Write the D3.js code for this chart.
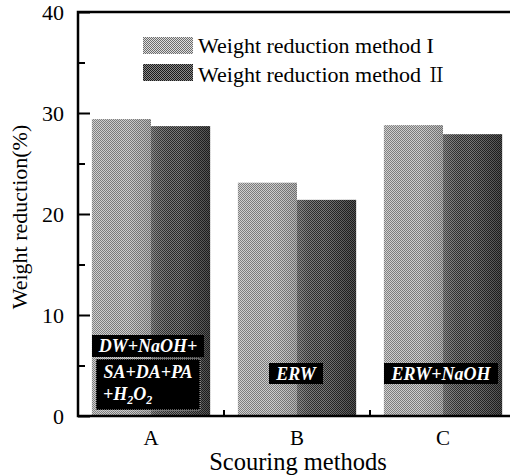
<!DOCTYPE html>
<html>
<head>
<meta charset="utf-8">
<script src="https://cdn.jsdelivr.net/npm/d3@7"></script>
<style>
  html, body { margin: 0; padding: 0; background: #fff; }
  svg { display: block; }
</style>
</head>
<body>
<svg id="chart" width="510" height="476"></svg>
<script>
// Scouring methods and the weight reduction (%) each one gives
const categories = ["A", "B", "C"];
const seriesBase = "Weight reduction method ";
const seriesNumerals = ["I", "\u2161"];
const method1 = [29.4, 23.1, 28.8];
const method2 = [28.7, 21.4, 27.9];
const yTicks = [0, 10, 20, 30, 40];
const yMinorTicks = [5, 15, 25, 35];

const SERIF = '"Liberation Serif"';
const svg = d3.select("#chart");
const plotLeft = 78, plotRight = 516, plotTop = 12, plotBottom = 416;

const x = d3.scaleBand().domain(categories).range([plotLeft, plotRight])
  .paddingInner(0.19).paddingOuter(0.095);
const x1 = d3.scaleBand().domain([0, 1]).range([0, x.bandwidth()]);
const y = d3.scaleLinear().domain([0, 40]).range([plotBottom, plotTop]);

// Halftone-like fills
const defs = svg.append("defs");
function checker(id, a, b) {
  const p = defs.append("pattern").attr("id", id).attr("patternUnits", "userSpaceOnUse")
    .attr("width", 2).attr("height", 2);
  p.append("rect").attr("width", 2).attr("height", 2).attr("fill", a);
  p.append("rect").attr("width", 1).attr("height", 1).attr("fill", b);
  p.append("rect").attr("x", 1).attr("y", 1).attr("width", 1).attr("height", 1).attr("fill", b);
}
checker("pat1", "#dedede", "#6c6c6c");
checker("pat2", "#8a8a8a", "#1a1a1a");
function shade(id, stops) {
  const g = defs.append("linearGradient").attr("id", id);
  stops.forEach(s => g.append("stop").attr("offset", s[0]).attr("stop-color", s[1]).attr("stop-opacity", s[2]));
}
shade("sh1", [["0%", "#fff", 0.05], ["60%", "#000", 0.0], ["100%", "#000", 0.12]]);
shade("sh2", [["0%", "#fff", 0.15], ["45%", "#000", 0.0], ["100%", "#000", 0.35]]);

const fills = ["url(#pat1)", "url(#pat2)"];
const shades = ["url(#sh1)", "url(#sh2)"];
const series = [method1, method2];

const groups = svg.append("g").selectAll("g").data(categories).join("g")
  .attr("transform", d => `translate(${x(d)},0)`);
series.forEach((vals, si) => {
  groups.append("rect")
    .attr("x", x1(si)).attr("width", x1.bandwidth())
    .attr("y", (d, i) => y(vals[i])).attr("height", (d, i) => y(0) - y(vals[i]))
    .attr("fill", fills[si]);
  groups.append("rect")
    .attr("x", x1(si)).attr("width", x1.bandwidth())
    .attr("y", (d, i) => y(vals[i])).attr("height", (d, i) => y(0) - y(vals[i]))
    .attr("fill", shades[si]);
});

// Labels on the bars
const lab = svg.append("g");
function labelBox(cx, y0, w, h, dotted) {
  lab.append("rect").attr("x", cx - w / 2).attr("y", y0).attr("width", w).attr("height", h)
    .attr("fill", "#000")
    .attr("stroke", dotted ? "#bbb" : "none").attr("stroke-dasharray", dotted ? "1,1" : null);
}
function labelText(xx, yb, anchor) {
  return lab.append("text").attr("x", xx).attr("y", yb).attr("text-anchor", anchor)
    .attr("font-family", SERIF).attr("font-weight", "bold").attr("font-style", "italic")
    .attr("font-size", 18).attr("fill", "#fff");
}
const cA = x("A") + x.bandwidth() / 2 - 3;
labelBox(cA, 335, 112, 22, false);
labelText(cA, 352, "middle").text("DW+NaOH+");
labelBox(cA, 359, 104, 51, true);
labelText(cA, 378, "middle").text("SA+DA+PA");
const h2o2 = labelText(cA - 45, 400, "start");
h2o2.append("tspan").text("+H");
h2o2.append("tspan").attr("dy", 4).attr("font-size", 12).text("2");
h2o2.append("tspan").attr("dy", -4).text("O");
h2o2.append("tspan").attr("dy", 4).attr("font-size", 12).text("2");

const cB = x("B") + x.bandwidth() / 2 - 1;
labelBox(cB, 363, 54, 21, false);
labelText(cB, 380, "middle").text("ERW");
const cC = x("C") + x.bandwidth() / 2 - 2;
labelBox(cC, 363, 114, 21, false);
labelText(cC, 380, "middle").text("ERW+NaOH");

// Axes and frame
const axisW = 2.5;
const yAxis = svg.append("g").attr("transform", `translate(${plotLeft},0)`)
  .call(d3.axisLeft(y).tickValues(yTicks).tickSizeInner(-12).tickSizeOuter(0).tickPadding(14));
yAxis.select(".domain").remove();
yAxis.selectAll("line").attr("stroke-width", 2);
yAxis.selectAll("text").attr("font-size", 22).attr("font-family", SERIF).attr("dy", "0.34em");

const yMinor = svg.append("g").attr("transform", `translate(${plotLeft},0)`)
  .call(d3.axisLeft(y).tickValues(yMinorTicks).tickSizeInner(-7).tickSizeOuter(0).tickFormat(""));
yMinor.select(".domain").remove();
yMinor.selectAll("line").attr("stroke-width", 2);

const xAxis = svg.append("g").attr("transform", `translate(0,${plotBottom})`)
  .call(d3.axisBottom(x).tickSize(0).tickPadding(14));
xAxis.select(".domain").remove();
xAxis.selectAll("text").attr("font-size", 21).attr("font-family", SERIF);

// small ticks between groups
const gap = x.step() * x.paddingInner();
const between = categories.slice(1).map(c => x(c) - gap / 2);
svg.append("g").selectAll("line").data(between).join("line")
  .attr("x1", d => d).attr("x2", d => d).attr("y1", plotBottom).attr("y2", plotBottom - 6)
  .attr("stroke", "#000").attr("stroke-width", 2);

svg.append("rect").attr("x", plotLeft).attr("y", plotTop)
  .attr("width", plotRight - plotLeft).attr("height", plotBottom - plotTop)
  .attr("fill", "none").attr("stroke", "#000").attr("stroke-width", axisW);

// Axis titles
svg.append("text").attr("x", 298).attr("y", 470).attr("text-anchor", "middle")
  .attr("font-family", SERIF).attr("font-size", 24.5).text("Scouring methods");
svg.append("text").attr("transform", "translate(27,217) rotate(-90)").attr("text-anchor", "middle")
  .attr("font-family", SERIF).attr("font-size", 22).text("Weight reduction(%)");

// Legend
const legend = svg.append("g");
seriesNumerals.forEach((num, i) => {
  legend.append("rect").attr("x", 143).attr("y", 37 + i * 27).attr("width", 50).attr("height", 17)
    .attr("fill", fills[i]);
  const t = legend.append("text").attr("x", 198).attr("y", 53 + i * 29)
    .attr("font-family", SERIF).attr("font-size", 22);
  t.append("tspan").text(seriesBase);
  t.append("tspan").attr("font-family", i === 1 ? '"Noto Serif CJK SC"' : SERIF)
    .attr("font-size", i === 1 ? 20 : 22).text(num);
});
</script>
</body>
</html>
